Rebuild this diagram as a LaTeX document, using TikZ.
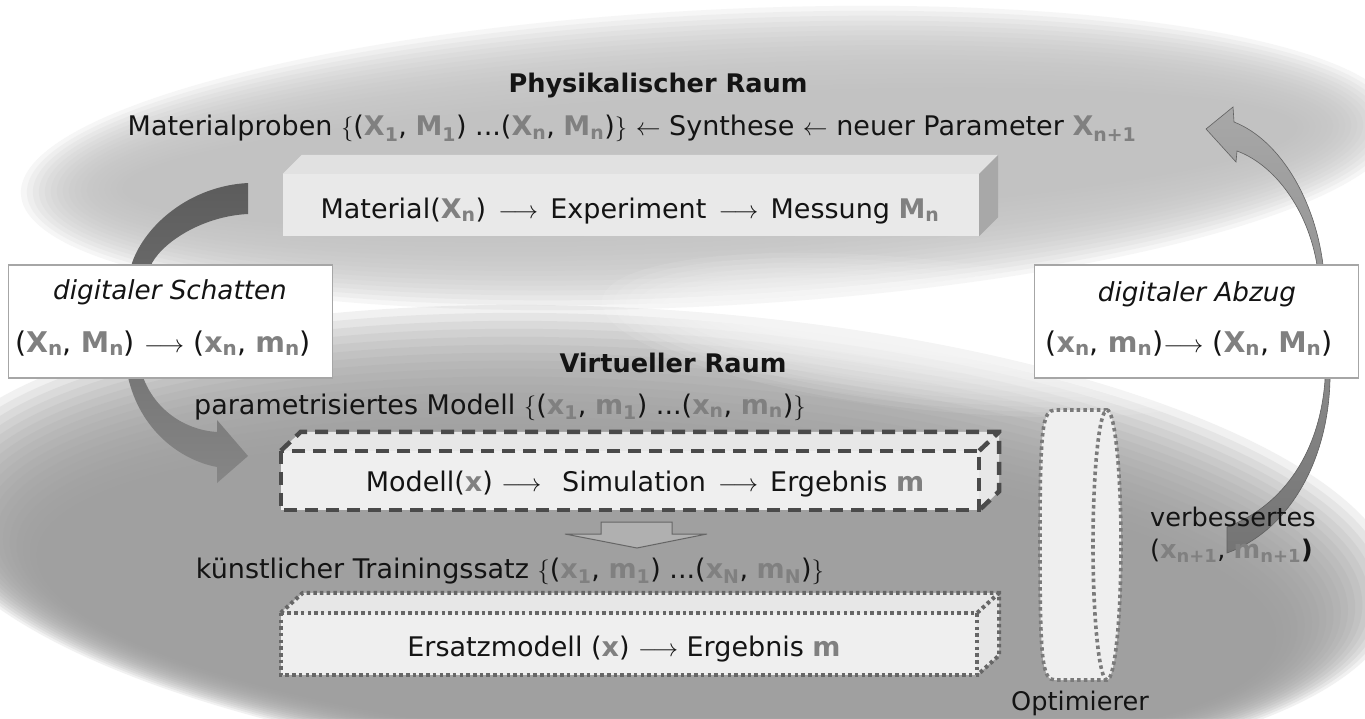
\documentclass[tikz,border=0pt]{standalone}
\usepackage{fontspec}
\setmainfont{DejaVu Sans}
\usetikzlibrary{calc}
\definecolor{vgray}{HTML}{808080}
\definecolor{ink}{HTML}{141414}
\definecolor{blobA}{gray}{0.757}
\definecolor{blobB}{gray}{0.615}
\definecolor{frontA}{HTML}{E9E9E9}
\definecolor{topA}{HTML}{E1E1E1}
\definecolor{sideA}{HTML}{A8A8A8}
\definecolor{faceB}{HTML}{EFEFEF}
\definecolor{topB}{HTML}{E7E7E7}
\definecolor{dashC}{HTML}{4A4A4A}
\definecolor{dotC}{HTML}{666666}
\definecolor{cylC}{HTML}{7A7A7A}
\definecolor{arrLa}{HTML}{5C5C5C}
\definecolor{arrLb}{HTML}{868686}
\definecolor{arrRa}{HTML}{A8A8A8}
\definecolor{arrRb}{HTML}{747474}
\newcommand\vs[2]{{\bfseries\color{vgray}#1\textsubscript{#2}}}
\newcommand\vv[1]{{\bfseries\color{vgray}#1}}
\newcommand\lra{$\longrightarrow$}
\newcommand\wlra{\hspace{0.45em}$\longrightarrow$\hspace{0.45em}}
\begin{document}
\begin{tikzpicture}[x=1bp,y=-1bp,
  txt/.style={inner sep=0pt, anchor=base, text=ink, font=\fontsize{27bp}{32bp}\selectfont},
  big/.style={txt, font=\fontsize{28.5bp}{33bp}\selectfont},
  itl/.style={txt, font=\fontsize{26.2bp}{31bp}\selectfont\itshape},
  small/.style={txt, font=\fontsize{25.6bp}{30bp}\selectfont},
  ttl/.style={txt, font=\fontsize{25.6bp}{30bp}\selectfont\bfseries},
  infobox/.style={draw=gray!70, line width=1.2bp, fill=white, minimum width=324bp, minimum height=113bp, inner sep=0pt},
  solidface/.style={fill=frontA, inner sep=0pt},
  dashface/.style={fill=faceB, inner sep=0pt},
  dashedge/.style={draw=dashC, line width=4.5bp, dash pattern=on 13bp off 8bp},
  dotedge/.style={draw=dotC, line width=4bp, dash pattern=on 3.5bp off 3.2bp},
  cyledge/.style={draw=cylC, line width=3.6bp, dash pattern=on 3.5bp off 3.2bp},
]
\useasboundingbox (0,0) rectangle (1365,718);
\fill[white] (0,0) rectangle (1365,718);

% soft grey regions: physical space (top) and virtual space (bottom)
\foreach \k in {0,...,17}{
  \fill[blobA, opacity=0.14, rotate around={3:(710,158)}]
    (710,158) ellipse [x radius={690bp-6bp*\k}, y radius={148bp-5bp*\k}];
}
\foreach \k in {0,...,17}{
  \fill[blobB, opacity=0.14, rotate around={-4:(660,545)}]
    (660,{545+3*\k}) ellipse [x radius={740bp-7bp*\k}, y radius={235bp-5bp*\k}];
}
% light sheen on the upper edge of the virtual space
\foreach \k in {0,...,11}{
  \fill[white, opacity=0.09, rotate around={-6:(930,335)}]
    (930,335) ellipse [x radius={330bp-12bp*\k}, y radius={75bp-5bp*\k}];
}

% curved arrow: physical -> virtual (digital shadow)
\shade[top color=arrLa, bottom color=arrLb]
  (248,183) .. controls (190,186) and (145,225) .. (132,263) -- (128,377)
  .. controls (140,430) and (180,460) .. (217,467) -- (217,483) -- (248,456)
  -- (217,420) -- (217,432) .. controls (185,430) and (155,410) .. (143,377)
  -- (152,263) .. controls (165,240) and (205,216) .. (248,214) -- cycle;

% curved arrow: virtual -> physical (digital print)
\shadedraw[top color=arrRa, bottom color=arrRb, draw=gray!75!black, line width=0.6bp]
  (1206,129) -- (1233,107) -- (1234,122) .. controls (1280,140) and (1315,200) .. (1323,265)
  -- (1330,380) .. controls (1328,460) and (1290,530) .. (1227,553) -- (1227,527)
  .. controls (1285,505) and (1320,450) .. (1325,380) -- (1317,265)
  .. controls (1308,210) and (1275,165) .. (1237,151) -- (1236,162) -- cycle;

% physical space
\node[ttl] (physT) at (658,93) {Physikalischer Raum};
\node[txt] (samples) at (632,136) {Materialproben $\{$(\vs{X}{1}, \vs{M}{1}) ...(\vs{X}{n}, \vs{M}{n})$\}$ $\leftarrow$ Synthese $\leftarrow$ neuer Parameter \vs{X}{n+1}};

\node[solidface, minimum width=696bp, minimum height=62bp] (phys) at (631,205) {};
\fill[topA] (phys.north west) -- ++(19,-19) -- ($(phys.north east)+(19,-19)$) -- (phys.north east) -- cycle;
\fill[sideA] (phys.north east) -- ++(19,-19) -- ($(phys.south east)+(19,-19)$) -- (phys.south east) -- cycle;
\node[txt] (physL) at (630,218) {Material(\vs{X}{n})\wlra Experiment\wlra Messung \vs{M}{n}};

% transfer boxes
\node[infobox] (shadow) at (170.5,321.5) {};
\node[itl] (shadowA) at (170,299) {digitaler Schatten};
\node[big] (shadowB) at (163,352) {(\vs{X}{n}, \vs{M}{n}) \lra{} (\vs{x}{n}, \vs{m}{n})};

\node[infobox] (print) at (1196.5,321.5) {};
\node[itl] (printA) at (1197,301) {digitaler Abzug};
\node[big] (printB) at (1189,352) {(\vs{x}{n}, \vs{m}{n})\lra{} (\vs{X}{n}, \vs{M}{n})};

% virtual space
\node[ttl] (virtT) at (673,372) {Virtueller Raum};
\node[txt] (param) at (500,414) {parametrisiertes Modell $\{$(\vs{x}{1}, \vs{m}{1}) ...(\vs{x}{n}, \vs{m}{n})$\}$};

\node[dashface, minimum width=698bp, minimum height=59bp] (sim) at (630,480.5) {};
\fill[topB] (sim.north west) -- ++(20,-19) -- ($(sim.north east)+(20,-19)$) -- (sim.north east) -- cycle;
\fill[topB] (sim.north east) -- ++(20,-19) -- ($(sim.south east)+(20,-19)$) -- (sim.south east) -- cycle;
\draw[dashedge] (sim.north west) rectangle (sim.south east);
\draw[dashedge] (sim.north west) -- ++(20,-19) -- ($(sim.north east)+(20,-19)$) -- ($(sim.south east)+(20,-19)$) -- (sim.south east);
\draw[dashedge] (sim.north east) -- ++(20,-19);
\node[txt] (simL) at (645,491) {Modell(\vv{x}) \lra\hspace{0.45em} Simulation\wlra Ergebnis \vv{m}};

% hollow arrow: simulation -> training set
\draw[gray!80!black, line width=1bp, fill=gray!62]
  (601,522) -- (672,522) -- (672,534) -- (707,534) -- (637,548) -- (565,534) -- (601,534) -- cycle;

\node[txt] (train) at (510,578) {künstlicher Trainingssatz $\{$(\vs{x}{1}, \vs{m}{1}) ...(\vs{x}{N}, \vs{m}{N})$\}$};

\node[dashface, minimum width=696bp, minimum height=62bp] (surr) at (629,644) {};
\fill[topB] (surr.north west) -- ++(22,-20) -- ($(surr.north east)+(22,-20)$) -- (surr.north east) -- cycle;
\fill[topB] (surr.north east) -- ++(22,-20) -- ($(surr.south east)+(22,-20)$) -- (surr.south east) -- cycle;
\draw[dotedge] (surr.north west) rectangle (surr.south east);
\draw[dotedge] (surr.north west) -- ++(22,-20) -- ($(surr.north east)+(22,-20)$) -- ($(surr.south east)+(22,-20)$) -- (surr.south east);
\draw[dotedge] (surr.north east) -- ++(22,-20);
\node[txt] (surrL) at (624,656) {Ersatzmodell (\vv{x}) \lra{} Ergebnis \vv{m}};

% optimizer drum
\coordinate (opt) at (1107,545);
\fill[faceB] (1055,410) -- (1107,410) -- (1107,680) -- (1055,680)
  .. controls (1042,680) and (1040,660) .. (1040,545)
  .. controls (1040,430) and (1042,410) .. (1055,410) -- cycle;
\draw[cyledge] (1107,410) -- (1055,410)
  .. controls (1042,410) and (1040,430) .. (1040,545)
  .. controls (1040,660) and (1042,680) .. (1055,680) -- (1107,680);
\draw[cyledge, fill=faceB] (opt) ellipse [x radius=14bp, y radius=135bp];
\node[small] (optL) at (1080,710) {Optimierer};

% improved parameters
\node[small, anchor=base west] (impA) at (1150,526) {verbessertes};
\node[small, anchor=base west] (impB) at (1150,558) {(\vs{x}{n+1}, \vs{m}{n+1}\textbf{)}};
\end{tikzpicture}
\end{document}
